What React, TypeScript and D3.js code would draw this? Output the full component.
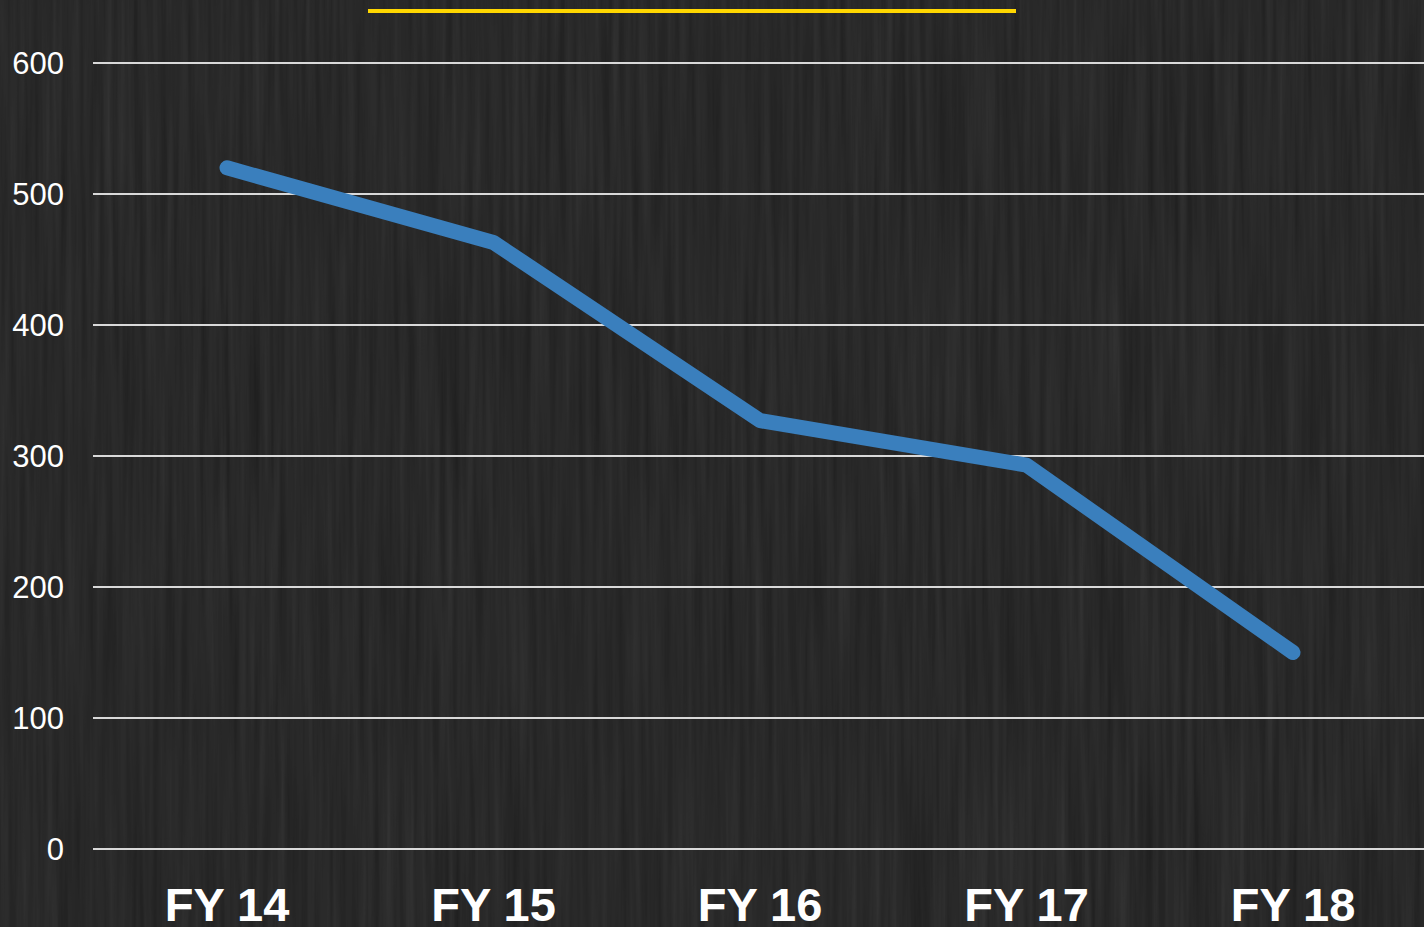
import React from "react";
import * as d3 from "d3";

const categories = ["FY 14", "FY 15", "FY 16", "FY 17", "FY 18"];
const values = [520, 463, 327, 293, 150];
const yTicks = [0, 100, 200, 300, 400, 500, 600];

const W = 1424;
const H = 927;

export default function App() {
  const x = d3.scalePoint<string>().domain(categories).range([227, 1293]);
  const y = d3.scaleLinear().domain([0, 600]).range([849, 63]);
  const line = d3
    .line<number>()
    .x((_, i) => x(categories[i]) as number)
    .y((d) => y(d));

  return (
    <div style={{ position: "fixed", left: 0, top: 0, width: W, height: H }}>
      <svg width={W} height={H} style={{ display: "block" }}>
        <defs>
          <filter id="wood" x="0" y="0" width="100%" height="100%">
            <feTurbulence type="fractalNoise" baseFrequency="0.15 0.004" numOctaves="3" seed="7" result="n" />
            <feColorMatrix
              in="n"
              type="matrix"
              values="0 0 0 0 0.15  0 0 0 0 0.15  0 0 0 0 0.15  0.35 0 0 0 0"
            />
          </filter>
          <filter id="wood2" x="0" y="0" width="100%" height="100%">
            <feTurbulence type="fractalNoise" baseFrequency="0.006 0.002" numOctaves="2" seed="3" result="n" />
            <feColorMatrix
              in="n"
              type="matrix"
              values="0 0 0 0 0.02  0 0 0 0 0.02  0 0 0 0 0.02  0.6 0 0 -0.1 0"
            />
          </filter>
        </defs>
        <rect x={0} y={0} width={W} height={H} fill="#1b1b1b" />
        <rect x={0} y={0} width={W} height={H} filter="url(#wood)" />
        <rect x={0} y={0} width={W} height={H} filter="url(#wood2)" />

        <line x1={368} x2={1016} y1={11} y2={11} stroke="#ffd700" strokeWidth={4} />

        {yTicks.map((t) => (
          <g key={t}>
            <line x1={93} x2={W} y1={y(t)} y2={y(t)} stroke="#d9d9d9" strokeWidth={2} />
            <text
              x={64}
              y={y(t)}
              dy="0.36em"
              textAnchor="end"
              fill="#ffffff"
              fontFamily="Liberation Sans, Arial, sans-serif"
              fontSize={31}
            >
              {t}
            </text>
          </g>
        ))}

        <path
          d={line(values) || ""}
          fill="none"
          stroke="#3a7fbd"
          strokeWidth={15}
          strokeLinecap="round"
          strokeLinejoin="round"
        />

        {categories.map((c) => (
          <text
            key={c}
            x={x(c)}
            y={921}
            textAnchor="middle"
            fill="#ffffff"
            fontFamily="Liberation Sans, Arial, sans-serif"
            fontWeight="bold"
            fontSize={47}
          >
            {c}
          </text>
        ))}
      </svg>
    </div>
  );
}
